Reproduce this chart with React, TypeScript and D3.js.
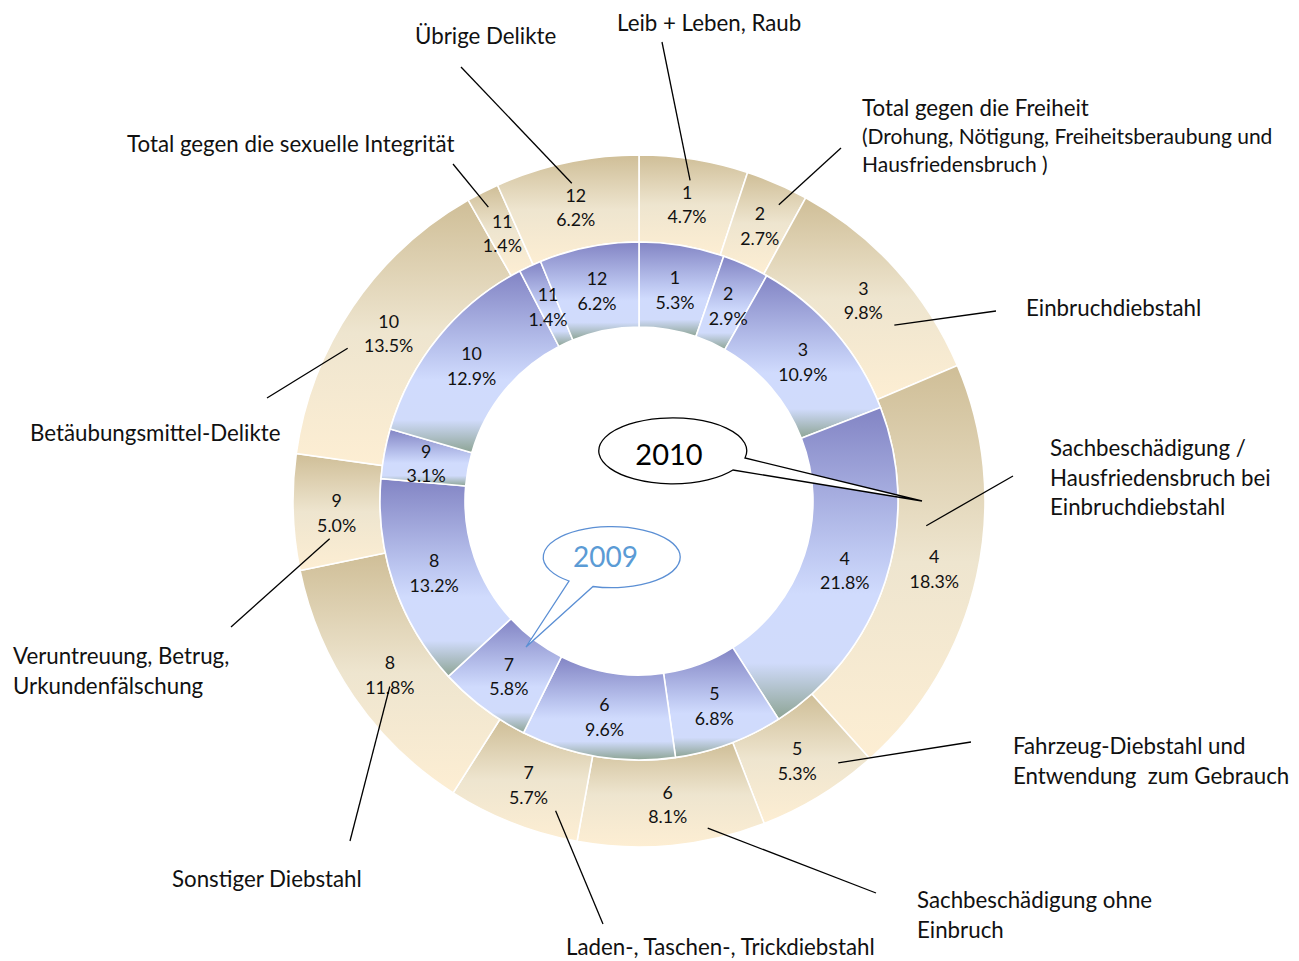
import React from "react";
import * as d3 from "d3";

// ---- data ----
const segmentIds = ["1", "2", "3", "4", "5", "6", "7", "8", "9", "10", "11", "12"];
const values2010 = [4.7, 2.7, 9.8, 18.3, 5.3, 8.1, 5.7, 11.8, 5.0, 13.5, 1.4, 6.2];
const values2009 = [5.3, 2.9, 10.9, 21.8, 6.8, 9.6, 5.8, 13.2, 3.1, 12.9, 1.4, 6.2];
const categoryNames: string[][] = [
  ["Leib + Leben, Raub"],
  ["Total gegen die Freiheit", "(Drohung, Nötigung, Freiheitsberaubung und", "Hausfriedensbruch )"],
  ["Einbruchdiebstahl"],
  ["Sachbeschädigung /", "Hausfriedensbruch bei", "Einbruchdiebstahl"],
  ["Fahrzeug-Diebstahl und", "Entwendung  zum Gebrauch"],
  ["Sachbeschädigung ohne", "Einbruch"],
  ["Laden-, Taschen-, Trickdiebstahl"],
  ["Sonstiger Diebstahl"],
  ["Veruntreuung, Betrug,", "Urkundenfälschung"],
  ["Betäubungsmittel-Delikte"],
  ["Total gegen die sexuelle Integrität"],
  ["Übrige Delikte"],
];
const yearLabels = ["2010", "2009"];

// ---- layout (annotation placement) ----
const W = 1299, H = 961;
const CX = 639, CY = 501;
const R_OUT = 346, R_MID = 259, R_IN = 174;
// category label: [x, first baseline, line height]
const catPos: [number, number, number][] = [
  [617, 31, 29], [862, 116, 28], [1026, 316, 29], [1050, 456, 29.5],
  [1013, 754, 30], [917, 908, 30], [566, 955, 29], [172, 887, 29],
  [13, 664, 30], [30, 441, 29], [127, 152, 29], [415, 44, 29],
];
// leader: outer end (absolute) and inner end offset from segment-label centre
const leaderOuter: [number, number][] = [
  [662, 42], [841, 148], [996, 311], [1013, 476], [971, 742], [876, 893],
  [603, 924], [350, 841], [231, 627], [267, 398], [453, 164], [461, 67],
];
const leaderInnerOffset: [number, number][] = [
  [3, -22], [19, -19], [31, 27], [-8, -41], [41, 4], [40, 26],
  [27, 28], [0, 14], [-7, 28], [-41, 17], [-14, -24], [-4, -22],
];

const FONT = "Lato, 'Open Sans', sans-serif";

export default function App() {
  const pie = d3
    .pie<number>()
    .sort(null)
    .value((d) => d)
    .startAngle(0)
    .endAngle(2 * Math.PI);

  const outerArcs = pie(values2010);
  const innerArcs = pie(values2009);

  const outerArc = d3.arc<d3.PieArcDatum<number>>().innerRadius(R_MID).outerRadius(R_OUT);
  const innerArc = d3.arc<d3.PieArcDatum<number>>().innerRadius(R_IN).outerRadius(R_MID);

  const fmt = d3.format(".1f");

  const segLabel = (c: [number, number], id: string, v: number, key: string) => (
    <text key={key} textAnchor="middle" fontFamily={FONT} fontSize={17.8} fill="#111">
      <tspan x={c[0]} y={c[1] - 3.5}>{id}</tspan>
      <tspan x={c[0]} y={c[1] + 21}>{fmt(v) + "%"}</tspan>
    </text>
  );

  // callout shapes
  const callout2010 = "M733,470 A74,33 0 1 1 745,458 L922,501 Z";
  const callout2009 = "M569,581 A68.5,30.5 0 1 1 593,586.5 L526,647 Z";

  return (
    <svg width={W} height={H} style={{ position: "absolute", left: 0, top: 0 }}>
      <defs>
        <linearGradient id="gOuter" x1="0" y1="0" x2="0" y2="1">
          <stop offset="0" stopColor="#cfbe97" />
          <stop offset="0.5" stopColor="#eee5cf" />
          <stop offset="1" stopColor="#fdeed3" />
        </linearGradient>
        <linearGradient id="gInner" x1="0" y1="0" x2="0" y2="1">
          <stop offset="0" stopColor="#8284c4" />
          <stop offset="0.45" stopColor="#bcc6f0" />
          <stop offset="0.6" stopColor="#d0dbfd" />
          <stop offset="0.82" stopColor="#d0dbfb" />
          <stop offset="1" stopColor="#8da494" />
        </linearGradient>
      </defs>
      <rect width={W} height={H} fill="#ffffff" />
      <g transform={`translate(${CX},${CY})`}>
        {outerArcs.map((a, i) => (
          <path key={"o" + i} d={outerArc(a) || ""} fill="url(#gOuter)" stroke="#fff" strokeWidth={1.6} />
        ))}
        {innerArcs.map((a, i) => (
          <path key={"i" + i} d={innerArc(a) || ""} fill="url(#gInner)" stroke="#fff" strokeWidth={1.6} />
        ))}
      </g>
      {/* segment labels */}
      {outerArcs.map((a, i) => {
        const c = outerArc.centroid(a);
        return segLabel([c[0] + CX, c[1] + CY], segmentIds[i], values2010[i], "lo" + i);
      })}
      {innerArcs.map((a, i) => {
        const c = innerArc.centroid(a);
        return segLabel([c[0] + CX, c[1] + CY], segmentIds[i], values2009[i], "li" + i);
      })}
      {/* leader lines */}
      {outerArcs.map((a, i) => {
        const c = outerArc.centroid(a);
        const x2 = c[0] + CX + leaderInnerOffset[i][0];
        const y2 = c[1] + CY + leaderInnerOffset[i][1];
        return (
          <line key={"ll" + i} x1={leaderOuter[i][0]} y1={leaderOuter[i][1]} x2={x2} y2={y2}
            stroke="#000" strokeWidth={1.3} />
        );
      })}
      {/* category labels */}
      {categoryNames.map((lines, i) => (
        <text key={"c" + i} fontFamily={FONT} fill="#111">
          {lines.map((t, j) => (
            <tspan key={j} x={catPos[i][0]} y={catPos[i][1] + j * catPos[i][2]}
              fontSize={i === 1 && j > 0 ? 21 : 22.3}
              style={{ whiteSpace: "pre" }}>{t}</tspan>
          ))}
        </text>
      ))}
      {/* callouts */}
      <path d={callout2010} fill="#fff" stroke="#000" strokeWidth={1.3} />
      <text x={669} y={465} textAnchor="middle" fontFamily={FONT} fontSize={29} fill="#000">{yearLabels[0]}</text>
      <path d={callout2009} fill="#fff" stroke="#5b8fd4" strokeWidth={1.3} />
      <text x={605.5} y={567} textAnchor="middle" fontFamily={FONT} fontSize={28} fill="#5b9bd5">{yearLabels[1]}</text>
    </svg>
  );
}
